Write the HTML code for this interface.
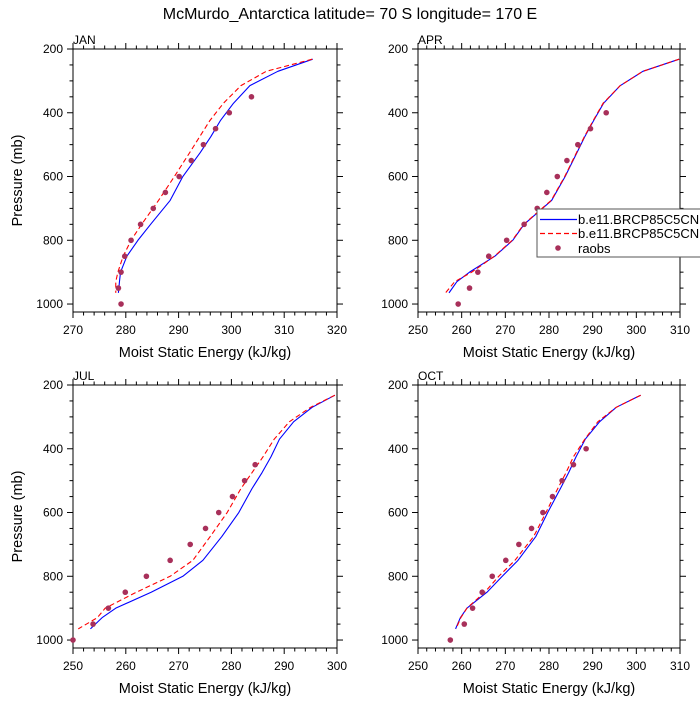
<!DOCTYPE html>
<html><head><meta charset="utf-8">
<style>
body{margin:0;background:#fff;}
svg text{font-family:"Liberation Sans",sans-serif;fill:#000;}
</style></head>
<body>
<svg id="chart" width="700" height="700" viewBox="0 0 700 700" xmlns="http://www.w3.org/2000/svg">
<text x="350" y="19" font-size="16" text-anchor="middle">McMurdo_Antarctica  latitude= 70 S longitude= 170 E</text>
</svg>
<script>
const levels = [232,270,315,370,425,475,525,600,675,750,800,850,900,930,965];
const obsLevels = [350,400,450,500,550,600,650,700,750,800,850,900,950,1000];
const panelNames = ["JAN","APR","JUL","OCT"];
const janBlue = [315.4,308.8,303.5,300.4,297.9,296.1,294.1,290.8,288.4,284.7,282.3,280.2,279.0,278.8,278.6];
const janRed = [315.3,306.6,301.8,298.5,295.9,294.0,292.1,289.2,286.2,283.0,281.0,279.5,278.5,278.1,278.1];
const janObs = [303.8,299.6,297,294.7,292.4,290.1,287.5,285.2,282.8,281,279.8,279.1,278.6,279.1];
const aprBlue = [309.8,301.5,296.3,292.5,290.2,288.2,286.4,283.7,280.6,274.3,271.7,267.6,261.8,258.9,257.1];
const aprRed = [309.8,301.5,296.3,292.4,290.1,288.1,286.3,283.6,280.5,274.2,271.6,267.5,262.3,258.4,256.3];
const aprObs = [null,293.1,289.5,286.6,284.1,281.9,279.5,277.3,274.3,270.3,266.2,263.7,261.8,259.2];
const julBlue = [299.6,295.3,291.8,289.1,287.5,285.8,283.9,281.4,278.2,274.6,270.8,264.8,258.1,255.5,253.3];
const julRed = [299.6,295.0,291.0,288.1,286.0,283.9,281.8,279.2,276.0,272.7,268.4,262.0,256.1,254.6,251.0];
const julObs = [null,null,284.5,282.5,280.2,277.6,275.1,272.2,268.4,263.9,259.9,256.7,253.8,250];
const octBlue = [301,295.4,291.6,288.3,286.2,284.5,282.6,279.7,277.0,272.9,269.3,265.8,261.2,259.7,258.6];
const octRed = [301,295.4,291.2,288.2,285.6,283.9,282.0,279.3,276.5,272.2,268.5,265.3,261.2,259.8,258.7];
const octObs = [null,288.5,285.6,283,280.8,278.6,276,273.1,270.1,267,264.7,262.5,260.6,257.4];
const xRanges = [[270,320],[250,310],[250,300],[250,310]];
const yTicks = [200,400,600,800,1000];

const NS="http://www.w3.org/2000/svg";
const svg=document.getElementById('chart');
function mk(tag,attrs,parent){const e=document.createElementNS(NS,tag);for(const k in attrs)e.setAttribute(k,attrs[k]);(parent||svg).appendChild(e);return e;}

const boxes=[{l:73,r:337,t:49,b:312},{l:418,r:680,t:49,b:312},{l:73,r:337,t:385,b:648},{l:418,r:680,t:385,b:648}];
const series=[[janBlue,janRed,janObs],[aprBlue,aprRed,aprObs],[julBlue,julRed,julObs],[octBlue,octRed,octObs]];

boxes.forEach((bx,i)=>{
  const g=mk('g',{});
  
  
  const [x0,x1]=xRanges[i];
  const xs=v=>bx.l+(v-x0)/(x1-x0)*(bx.r-bx.l);
  const ys=p=>bx.t+(p-200)/(1025-200)*(bx.b-bx.t);
  const frame=mk('rect',{x:bx.l,y:bx.t,width:bx.r-bx.l,height:bx.b-bx.t,fill:'none',stroke:'#000','stroke-width':1},g);
  
  
  for(let v=x0;v<=x1+1e-9;v+=2){
    const major=(v%10===0);const L=major?6:3.5;const X=xs(v);
    mk('line',{x1:X,x2:X,y1:bx.b,y2:bx.b+L,stroke:'#000'},g);
    mk('line',{x1:X,x2:X,y1:bx.t,y2:bx.t-L,stroke:'#000'},g);
    if(major){const t=mk('text',{x:X,y:bx.b+22,'font-size':12,'text-anchor':'middle'},g);t.textContent=v;
      }
  }
  for(let p=200;p<=1000;p+=50){
    const major=(p%200===0);const L=major?6:3.5;const Y=ys(p);
    mk('line',{x1:bx.l,x2:bx.l-L,y1:Y,y2:Y,stroke:'#000'},g);
    mk('line',{x1:bx.r,x2:bx.r+L,y1:Y,y2:Y,stroke:'#000'},g);
  }
  yTicks.forEach(p=>{const t=mk('text',{x:bx.l-10,y:ys(p)+4,'font-size':12,'text-anchor':'end'},g);t.textContent=p;
    });
  const pt=mk('text',{x:bx.l,y:bx.t-5,'font-size':12},g);pt.textContent=panelNames[i];
  
  const xt=mk('text',{x:(bx.l+bx.r)/2,y:bx.b+45,'font-size':14.5,'text-anchor':'middle'},g);xt.textContent='Moist Static Energy (kJ/kg)';
  
  if(i%2===0){const yt=mk('text',{x:22,y:(bx.t+bx.b)/2,'font-size':14.5,'text-anchor':'middle',transform:`rotate(-90 22 ${(bx.t+bx.b)/2})`},g);yt.textContent='Pressure (mb)';
    }
  const [b,r,o]=series[i];
  const pb=mk('polyline',{points:b.map((v,k)=>xs(v)+','+ys(levels[k])).join(' '),fill:'none',stroke:'#0000ff','stroke-width':1.1,'stroke-linejoin':'round'},g);
  
  const pr=mk('polyline',{points:r.map((v,k)=>xs(v)+','+ys(levels[k])).join(' '),fill:'none',stroke:'#ff0000','stroke-width':1.1,'stroke-dasharray':'5,3','stroke-linejoin':'round'},g);
  
  o.forEach((v,k)=>{if(v===null)return;const c=mk('circle',{cx:xs(v),cy:ys(obsLevels[k]),r:2.8,fill:'#a8305a'},g);
    });
});
const lg=mk('g',{});


mk('rect',{x:537,y:209,width:170,height:48,fill:'#fff',stroke:'#555','stroke-width':1},lg);
mk('path',{d:'M540 219.5 L577 219.5',style:'stroke:#0000ff;stroke-width:1.3;fill:none'},lg);
mk('path',{d:'M540 233.5 L577 233.5',style:'stroke:#ff0000;stroke-width:1.3;fill:none;stroke-dasharray:5,3'},lg);
mk('circle',{cx:558,cy:248,r:2.8,fill:'#a8305a'},lg);
[['b.e11.BRCP85C5CN',224],['b.e11.BRCP85C5CN',238],['raobs',253]].forEach(([s,y])=>{const t=mk('text',{x:578,y:y,'font-size':13},lg);t.textContent=s;
  });
</script>
</body></html>
